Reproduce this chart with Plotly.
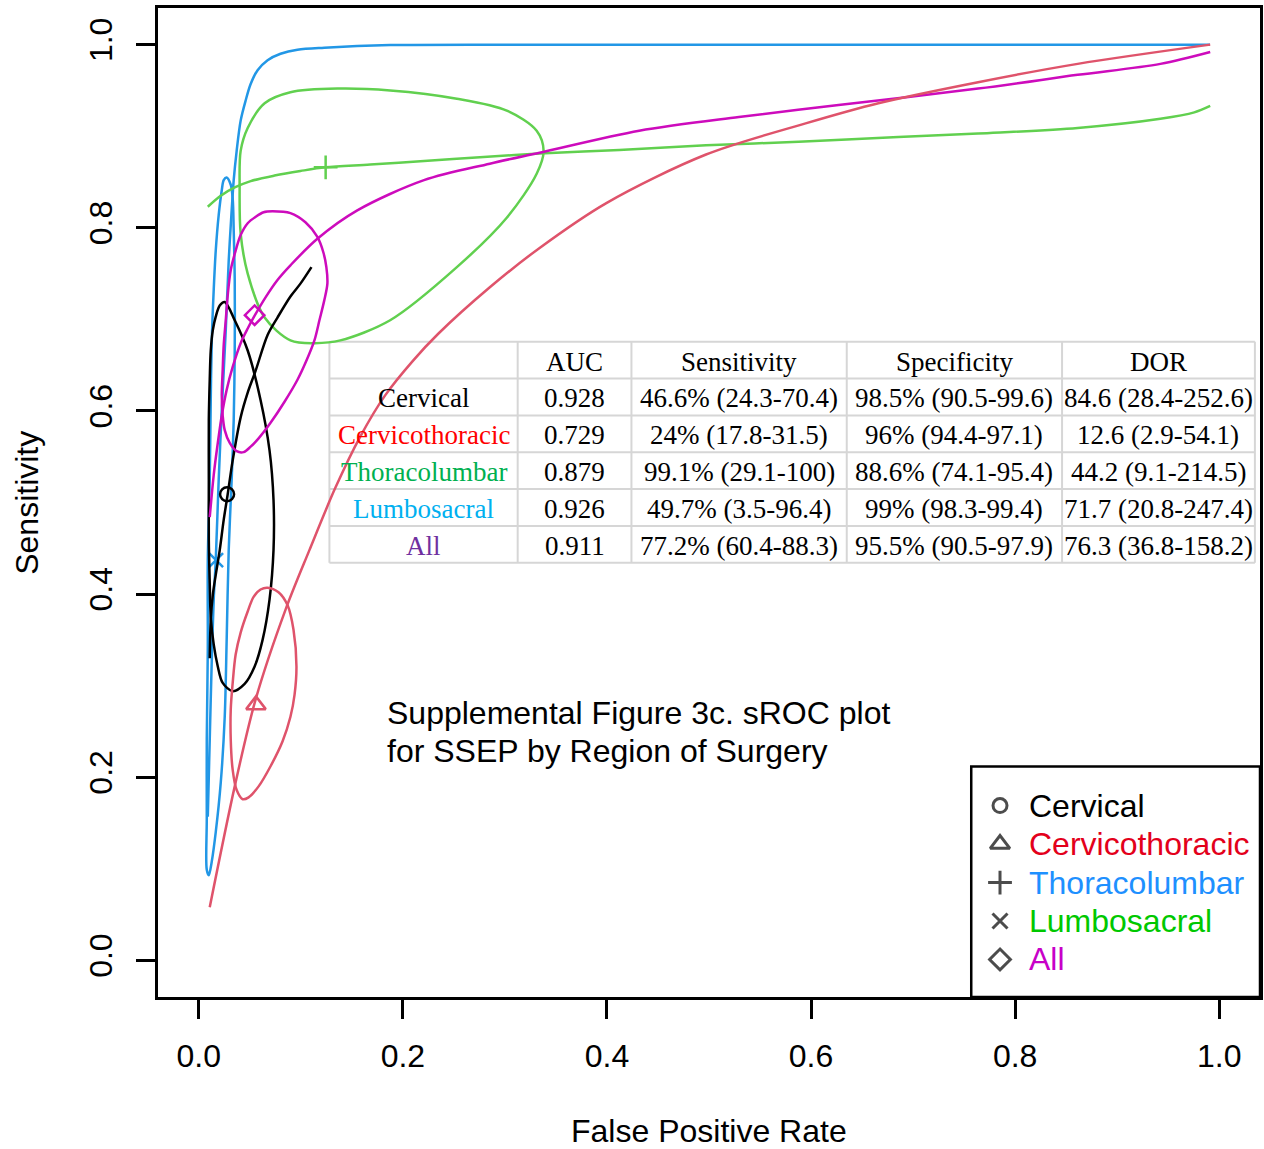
import plotly.graph_objects as go

# ---------------- sROC curves: false positive rate vs sensitivity ----------------
# Cervical
cerv_fpr = [0.0107, 0.0117, 0.0137, 0.0166, 0.0205, 0.0244, 0.0283, 0.0332, 0.0410, 0.0479,
            0.0557, 0.0674, 0.0771, 0.0898, 0.0996, 0.1104]
cerv_sens = [0.330, 0.372, 0.399, 0.421, 0.448, 0.481, 0.509, 0.546, 0.593, 0.620,
             0.644, 0.683, 0.702, 0.725, 0.739, 0.757]
cerv_ell_fpr = [0.0254, 0.0352, 0.0479, 0.0605, 0.0693, 0.0732, 0.0732, 0.0693, 0.0625, 0.0547,
                0.0449, 0.0332, 0.0234, 0.0186, 0.0146, 0.0117, 0.0107, 0.0098, 0.0098, 0.0098,
                0.0107, 0.0117, 0.0137, 0.0166, 0.0205, 0.0254]
cerv_ell_sens = [0.719, 0.699, 0.666, 0.612, 0.557, 0.503, 0.448, 0.394, 0.350, 0.321,
                 0.302, 0.294, 0.303, 0.321, 0.345, 0.375, 0.412, 0.459, 0.525, 0.590,
                 0.634, 0.666, 0.688, 0.703, 0.715, 0.719]
cerv_point = (0.0277, 0.509)

# Cervicothoracic
ct_fpr = [0.0107, 0.0352, 0.0557, 0.0850, 0.1084, 0.1338, 0.1582, 0.1826, 0.2100, 0.2344,
          0.2852, 0.3340, 0.3994, 0.4971, 0.5947, 0.6660, 0.7637, 0.8613, 0.9912]
ct_sens = [0.058, 0.190, 0.285, 0.383, 0.448, 0.516, 0.572, 0.617, 0.655, 0.684,
           0.735, 0.778, 0.827, 0.880, 0.914, 0.936, 0.959, 0.979, 1.000]
ct_ell_fpr = [0.0674, 0.0781, 0.0869, 0.0928, 0.0957, 0.0938, 0.0898, 0.0820, 0.0703, 0.0586,
              0.0488, 0.0430, 0.0371, 0.0332, 0.0313, 0.0313, 0.0332, 0.0361, 0.0410, 0.0479,
              0.0537, 0.0605, 0.0674]
ct_ell_sens = [0.407, 0.402, 0.388, 0.361, 0.321, 0.290, 0.266, 0.239, 0.212, 0.190,
               0.178, 0.176, 0.186, 0.208, 0.241, 0.274, 0.303, 0.334, 0.358, 0.381,
               0.397, 0.405, 0.407]
ct_point = (0.0560, 0.279)

# Thoracolumbar
tl_fpr = [0.0088, 0.0215, 0.0352, 0.0508, 0.0742, 0.0996, 0.1240, 0.1680, 0.2207, 0.2754,
          0.3340, 0.4121, 0.4971, 0.5879, 0.6855, 0.7637, 0.8613, 0.9424, 0.9756, 0.9912]
tl_sens = [0.823, 0.835, 0.844, 0.851, 0.857, 0.862, 0.866, 0.869, 0.873, 0.877,
           0.881, 0.885, 0.890, 0.894, 0.899, 0.903, 0.909, 0.919, 0.926, 0.933]
tl_ell_fpr = [0.1357, 0.1875, 0.2529, 0.3018, 0.3311, 0.3379, 0.3311, 0.3018, 0.2529, 0.1875,
              0.1387, 0.1133, 0.0898, 0.0645, 0.0479, 0.0410, 0.0400, 0.0410, 0.0479, 0.0645,
              0.0898, 0.1357]
tl_ell_sens = [0.952, 0.950, 0.941, 0.928, 0.906, 0.884, 0.859, 0.811, 0.757, 0.699,
               0.677, 0.674, 0.677, 0.702, 0.750, 0.794, 0.844, 0.884, 0.909, 0.936,
               0.948, 0.952]
tl_point = (0.1243, 0.866)

# Lumbosacral
ls_fpr = [0.0088, 0.0107, 0.0127, 0.0146, 0.0166, 0.0195, 0.0225, 0.0264, 0.0293, 0.0322,
          0.0342, 0.0371, 0.0410, 0.0459, 0.0508, 0.0576, 0.0674, 0.0801, 0.0967, 0.1230,
          0.1875, 0.3506, 0.5880, 0.9910]
ls_sens = [0.157, 0.241, 0.328, 0.394, 0.437, 0.525, 0.601, 0.688, 0.764, 0.819,
           0.852, 0.884, 0.917, 0.939, 0.957, 0.972, 0.983, 0.990, 0.9945, 0.9967,
           0.9995, 0.9999, 1.000, 1.000]
ls_ell_fpr = [0.0273, 0.0313, 0.0332, 0.0342, 0.0352, 0.0352, 0.0342, 0.0322, 0.0293, 0.0273,
              0.0254, 0.0215, 0.0166, 0.0127, 0.0098, 0.0078, 0.0078, 0.0078, 0.0088, 0.0088,
              0.0107, 0.0117, 0.0127, 0.0146, 0.0166, 0.0195, 0.0225, 0.0244, 0.0273]
ls_ell_sens = [0.855, 0.847, 0.832, 0.797, 0.743, 0.666, 0.590, 0.525, 0.448, 0.350,
               0.266, 0.194, 0.140, 0.108, 0.093, 0.099, 0.154, 0.241, 0.339, 0.437,
               0.525, 0.612, 0.677, 0.732, 0.775, 0.814, 0.841, 0.852, 0.855]
ls_point = (0.0169, 0.437)

# All regions
all_fpr = [0.0107, 0.0146, 0.0186, 0.0225, 0.0273, 0.0332, 0.0410, 0.0479, 0.0547, 0.0654,
           0.0771, 0.0898, 0.1162, 0.1553, 0.2207, 0.2852, 0.3340, 0.4316, 0.5293, 0.6270,
           0.7637, 0.8613, 0.9424, 0.9912]
all_sens = [0.484, 0.530, 0.565, 0.595, 0.623, 0.648, 0.674, 0.690, 0.704, 0.724,
            0.743, 0.759, 0.788, 0.819, 0.852, 0.870, 0.882, 0.906, 0.921, 0.934,
            0.952, 0.967, 0.979, 0.992]
all_ell_fpr = [0.0723, 0.0898, 0.1045, 0.1162, 0.1221, 0.1250, 0.1260, 0.1230, 0.1182, 0.1133,
               0.1055, 0.0967, 0.0840, 0.0703, 0.0586, 0.0508, 0.0439, 0.0371, 0.0303, 0.0254,
               0.0234, 0.0225, 0.0234, 0.0244, 0.0264, 0.0283, 0.0313, 0.0361, 0.0410, 0.0479,
               0.0557, 0.0635, 0.0723]
all_ell_sens = [0.818, 0.816, 0.806, 0.790, 0.773, 0.757, 0.739, 0.721, 0.699, 0.677,
                0.655, 0.634, 0.610, 0.587, 0.570, 0.561, 0.555, 0.556, 0.565, 0.579,
                0.595, 0.617, 0.645, 0.672, 0.699, 0.726, 0.754, 0.775, 0.792, 0.805,
                0.812, 0.817, 0.818]
all_point = (0.0547, 0.7045)

# ---------------- summary table ----------------
tbl_header = ["", "AUC", "Sensitivity", "Specificity", "DOR"]
tbl_groups = ["Cervical", "Cervicothoracic", "Thoracolumbar", "Lumbosacral", "All"]
tbl_group_colors = ["#000000", "#FF0000", "#00B050", "#00B0F0", "#7030A0"]
tbl_auc = ["0.928", "0.729", "0.879", "0.926", "0.911"]
tbl_sens = ["46.6% (24.3-70.4)", "24% (17.8-31.5)", "99.1% (29.1-100)",
            "49.7% (3.5-96.4)", "77.2% (60.4-88.3)"]
tbl_spec = ["98.5% (90.5-99.6)", "96% (94.4-97.1)", "88.6% (74.1-95.4)",
            "99% (98.3-99.4)", "95.5% (90.5-97.9)"]
tbl_dor = ["84.6 (28.4-252.6)", "12.6 (2.9-54.1)", "44.2 (9.1-214.5)",
           "71.7 (20.8-247.4)", "76.3 (36.8-158.2)"]

# ---------------- legend ----------------
legend_labels = ["Cervical", "Cervicothoracic", "Thoracolumbar", "Lumbosacral", "All"]
legend_colors = ["#000000", "#E3001B", "#1E90FF", "#00C800", "#C800C8"]
legend_symbols = ["circle-open", "triangle-up-open", "cross-thin-open", "x-thin-open", "diamond-open"]
legend_sizes = [14, 17, 17, 15, 16]

SANS = "Liberation Sans, Arial, sans-serif"
SERIF = "Liberation Serif, Times New Roman, serif"
LW = 2.5

series = [
    dict(fpr=ls_fpr, sens=ls_sens, efpr=ls_ell_fpr, esens=ls_ell_sens, pt=ls_point,
         color="#2297E6", symbol="x-thin-open", size=14),
    dict(fpr=tl_fpr, sens=tl_sens, efpr=tl_ell_fpr, esens=tl_ell_sens, pt=tl_point,
         color="#61D04F", symbol="cross-thin-open", size=17),
    dict(fpr=cerv_fpr, sens=cerv_sens, efpr=cerv_ell_fpr, esens=cerv_ell_sens, pt=cerv_point,
         color="#000000", symbol="circle-open", size=14),
    dict(fpr=all_fpr, sens=all_sens, efpr=all_ell_fpr, esens=all_ell_sens, pt=all_point,
         color="#CD0BBC", symbol="diamond-open", size=15),
    dict(fpr=ct_fpr, sens=ct_sens, efpr=ct_ell_fpr, esens=ct_ell_sens, pt=ct_point,
         color="#DF536B", symbol="triangle-up-open", size=17),
]

fig = go.Figure()
for s in series:
    fig.add_trace(go.Scatter(x=s["efpr"], y=s["esens"], mode="lines",
                             line=dict(color=s["color"], width=LW, shape="spline", smoothing=0.9),
                             hoverinfo="skip", showlegend=False))
    fig.add_trace(go.Scatter(x=s["fpr"], y=s["sens"], mode="lines",
                             line=dict(color=s["color"], width=LW, shape="spline", smoothing=0.9),
                             hoverinfo="skip", showlegend=False))
    fig.add_trace(go.Scatter(x=[s["pt"][0]], y=[s["pt"][1]], mode="markers",
                             marker=dict(symbol=s["symbol"], size=s["size"], color=s["color"],
                                         line=dict(color=s["color"], width=LW)),
                             hoverinfo="skip", showlegend=False))

shapes = []
annotations = []

# table grid
col_edges = [0.128, 0.3125, 0.424, 0.635, 0.846, 1.035]
tbl_top = 0.6756
row_h = 0.04024
n_rows = len(tbl_groups) + 1
grid = dict(color="#D6D6D6", width=2)
for k in range(n_rows + 1):
    yk = tbl_top - k * row_h
    shapes.append(dict(type="line", xref="x", yref="y", x0=col_edges[0], x1=col_edges[-1],
                       y0=yk, y1=yk, line=grid, layer="below"))
for xe in col_edges:
    shapes.append(dict(type="line", xref="x", yref="y", x0=xe, x1=xe,
                       y0=tbl_top, y1=tbl_top - n_rows * row_h, line=grid, layer="below"))

col_centers = [(a + b) / 2 for a, b in zip(col_edges[:-1], col_edges[1:])]
for j, h in enumerate(tbl_header):
    if h:
        annotations.append(dict(x=col_centers[j], y=tbl_top - 0.5 * row_h, xref="x", yref="y",
                                text=h, showarrow=False, xanchor="center", yanchor="middle",
                                yshift=-1.5,
                                font=dict(family=SERIF, size=27, color="#000000")))
for i, g in enumerate(tbl_groups):
    yc = tbl_top - (i + 1.5) * row_h
    cells = [g, tbl_auc[i], tbl_sens[i], tbl_spec[i], tbl_dor[i]]
    for j, c in enumerate(cells):
        annotations.append(dict(x=col_centers[j], y=yc, xref="x", yref="y", text=c,
                                showarrow=False, xanchor="center", yanchor="middle",
                                yshift=-1.5,
                                font=dict(family=SERIF, size=27,
                                          color=tbl_group_colors[i] if j == 0 else "#000000")))

# caption inside the plot
for k, line in enumerate(["Supplemental Figure 3c. sROC plot", "for SSEP by Region of Surgery"]):
    annotations.append(dict(x=0.1826, y=0.2704 - k * 0.0418, xref="x", yref="y", text=line,
                            showarrow=False, xanchor="left", yanchor="middle",
                            font=dict(family=SANS, size=32, color="#000000")))

# legend box and entries
shapes.append(dict(type="rect", xref="x", yref="y", x0=0.757, x1=1.04, y0=-0.04, y1=0.2116,
                   line=dict(color="#000000", width=LW), fillcolor="rgba(0,0,0,0)", layer="above"))
leg_x_key = 0.7852
leg_x_text = 0.8115
leg_y0 = 0.169
leg_dy = 0.042
leg_y = [leg_y0 - i * leg_dy for i in range(len(legend_labels))]
for i, lab in enumerate(legend_labels):
    annotations.append(dict(x=leg_x_text, y=leg_y[i], xref="x", yref="y", text=lab,
                            showarrow=False, xanchor="left", yanchor="middle",
                            font=dict(family=SANS, size=32, color=legend_colors[i])))

# axis titles
annotations.append(dict(x=0.5, y=-0.1354, xref="paper", yref="paper", text="False Positive Rate",
                        showarrow=False, xanchor="center", yanchor="middle",
                        font=dict(family=SANS, size=32, color="#000000")))
annotations.append(dict(x=-0.1195, y=0.5, xref="paper", yref="paper", text="Sensitivity",
                        showarrow=False, xanchor="center", yanchor="middle", textangle=-90,
                        font=dict(family=SANS, size=32, color="#000000")))

fig.update_layout(shapes=shapes, annotations=annotations)

# legend keys
fig.add_trace(go.Scatter(x=[leg_x_key] * len(legend_labels), y=leg_y, mode="markers",
                         marker=dict(symbol=legend_symbols, size=legend_sizes, color="#000000",
                                     line=dict(color="#000000", width=3)),
                         hoverinfo="skip", showlegend=False, cliponaxis=False))

ticks = [0.0, 0.2, 0.4, 0.6, 0.8, 1.0]
axis_common = dict(range=[-0.04, 1.04], tickvals=ticks, ticktext=[f"{t:.1f}" for t in ticks],
                   ticks="outside", ticklen=19, tickwidth=LW, tickcolor="#000000",
                   showline=True, linecolor="#000000", linewidth=LW, mirror=True,
                   showgrid=False, zeroline=False,
                   tickfont=dict(family=SANS, size=32, color="#000000"))
fig.update_xaxes(**axis_common, ticklabelstandoff=10)
fig.update_yaxes(**axis_common, tickangle=-90, ticklabelstandoff=11)

fig.update_layout(width=1264, height=1149, margin=dict(l=158, r=1, t=8, b=152),
                  plot_bgcolor="#FFFFFF", paper_bgcolor="#FFFFFF", showlegend=False)

fig.write_html("out.html")
